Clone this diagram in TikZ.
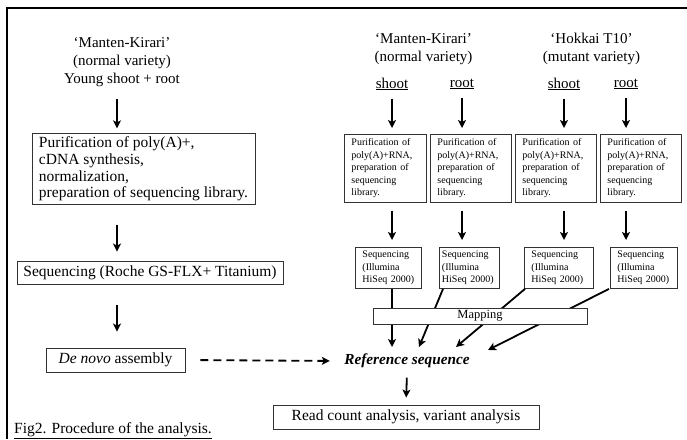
\documentclass[tikz,border=0pt]{standalone}
\usepackage{fontspec}
\setmainfont{Liberation Serif}
\usetikzlibrary{arrows.meta}
\begin{document}
\begin{tikzpicture}[x=1pt,y=-1pt,
  font=\fontsize{15.5}{16.7}\selectfont,
  bigbox/.style={draw=black!80,line width=0.9pt,align=left,inner xsep=4pt,inner ysep=3pt},
  smallbox/.style={draw=black!80,line width=0.9pt,align=left,anchor=north west,inner xsep=6pt,inner ysep=3.5pt,text width=#1,font=\fontsize{10}{12.5}\selectfont},
  title/.style={align=center,font=\fontsize{15}{18}\selectfont},
  arr/.style={line width=1.8pt,-{Stealth[length=8pt,width=8pt,inset=2pt]}}]
\useasboundingbox (0,0) rectangle (687,439);
% frame
\draw[line width=2pt] (7,439) -- (7,8) -- (687,8);
% left column
\coordinate (lx) at (117,0);
\node[title] (mkL) at (122,62) {‘Manten-Kirari’\\(normal variety)\\Young shoot + root};
\node[bigbox,minimum width=223,minimum height=70] (purif) at (143.5,169) {Purification of poly(A)+,\\cDNA synthesis,\\normalization,\\preparation of sequencing library.};
\node[bigbox,minimum width=266,minimum height=23] (roche) at (150,272.5) {Sequencing (Roche GS-FLX+ Titanium)};
\node[bigbox,minimum width=139,minimum height=24] (denovo) at (115.5,360) {\textit{De novo} assembly};
\draw[arr,shorten <=9pt,shorten >=5pt] (mkL.south -| lx) -- (purif.north -| lx);
\draw[arr,shorten <=20pt,shorten >=9pt] (purif.south -| lx) -- (roche.north -| lx);
\draw[arr,shorten <=21pt,shorten >=16pt] (roche.south -| lx) -- (denovo.north -| lx);
% right columns
\node[title] (mkR) at (423.5,49) {‘Manten-Kirari’\\(normal variety)};
\node[title] (hk) at (591.5,49) {‘Hokkai T10’\\(mutant variety)};
\node[title] (s1) at (392,84) {\underline{shoot}};
\node[title] (r1) at (462,84) {\underline{root}};
\node[title] (s2) at (564,84) {\underline{shoot}};
\node[title] (r2) at (626,84) {\underline{root}};
\node[smallbox=68pt,inner xsep=7pt,minimum height=68] (purA) at (344,134) {Purification of\\poly(A)+RNA,\\preparation of\\sequencing\\library.};
\node[smallbox=67pt,inner xsep=7pt,minimum height=68] (purB) at (430,134) {Purification of\\poly(A)+RNA,\\preparation of\\sequencing\\library.};
\node[smallbox=67pt,inner xsep=7pt,minimum height=68] (purC) at (515,134) {Purification of\\poly(A)+RNA,\\preparation of\\sequencing\\library.};
\node[smallbox=67pt,inner xsep=7pt,minimum height=68] (purD) at (600,134) {Purification of\\poly(A)+RNA,\\preparation of\\sequencing\\library.};
\foreach \t/\b in {s1/purA,r1/purB,s2/purC,r2/purD}
  \draw[arr,shorten <=5pt,shorten >=6pt] (\t.south) -- (\t.south |- \b.north);
\node[smallbox=52pt,inner xsep=7pt,minimum height=41] (seqA) at (355,247) {Sequencing\\(Illumina\\HiSeq 2000)};
\node[smallbox=55pt,inner xsep=2.5pt,minimum height=41] (seqB) at (439,247) {Sequencing\\(Illumina\\HiSeq 2000)};
\node[smallbox=55pt,inner xsep=7pt,minimum height=41] (seqC) at (524,247) {Sequencing\\(Illumina\\HiSeq 2000)};
\node[smallbox=53pt,inner xsep=7pt,minimum height=41] (seqD) at (610,247) {Sequencing\\(Illumina\\HiSeq 2000)};
\draw[arr,shorten <=8pt,shorten >=7pt] (purA.south -| s1) -- (seqA.north -| s1);
\draw[arr,shorten <=8pt,shorten >=7pt] (purB.south -| r1) -- (seqB.north -| r1);
\draw[arr,shorten <=8pt,shorten >=7pt] (purC.south -| s2) -- (seqC.north -| s2);
\draw[arr,shorten <=8pt,shorten >=7pt] (purD.south -| r2) -- (seqD.north -| r2);
% mapping to the reference
\coordinate (e1) at (392,347);
\coordinate (e2) at (419,347);
\coordinate (e3) at (456,347);
\coordinate (e4) at (488,350);
\draw[arr] (seqA.south -| s1) -- (e1);
\draw[arr] ([xshift=4pt]seqB.south west) -- (e2);
\draw[arr] ([xshift=1pt]seqC.south west) -- (e3);
\draw[arr] ([xshift=-1pt]seqD.south west) -- (e4);
\node[draw=black!80,line width=0.9pt,fill=white,minimum width=214,minimum height=16,inner sep=0pt,font=\fontsize{12.5}{14}\selectfont] (map) at (480,316) {Mapping};
\node[font=\fontsize{15.3}{18}\selectfont\bfseries\itshape] (ref) at (407,361) {Reference sequence};
\node[bigbox,minimum width=266,minimum height=24] (read) at (406,417) {Read count analysis, variant analysis};
\draw[arr,shorten <=6pt,shorten >=7pt] (ref.south) -- (read.north);
\draw[arr,dash pattern=on 8pt off 5pt,shorten <=15pt,shorten >=11pt] (denovo.east) -- (ref.west);
% caption
\node[anchor=base west,inner sep=0pt] (cap) at (14,433) {\underline{Fig2. Procedure of the analysis.}};
\end{tikzpicture}
\end{document}
